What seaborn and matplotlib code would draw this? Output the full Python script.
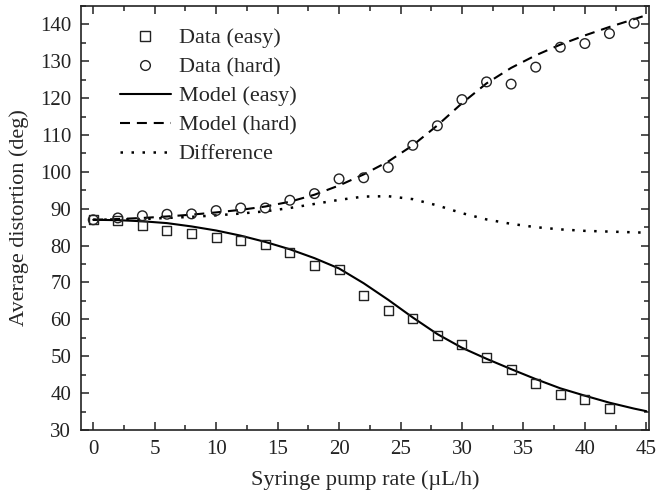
import matplotlib
matplotlib.use("Agg")
import matplotlib.pyplot as plt
from matplotlib.ticker import MultipleLocator
from matplotlib.lines import Line2D
import seaborn as sns
import pandas as pd

# ---- data ----
x_data = [0, 2, 4, 6, 8, 10, 12, 14, 16, 18, 20, 22, 24, 26, 28, 30, 32, 34, 36, 38, 40, 42, 44]
easy_data = [87.0, 86.7, 85.5, 84.0, 83.4, 82.2, 81.3, 80.2, 78.2, 74.7, 73.5, 66.4, 62.5,
             60.1, 55.5, 53.2, 49.7, 46.3, 42.6, 39.7, 38.2, 35.9]
hard_data = [87.0, 87.5, 88.1, 88.5, 88.6, 89.5, 90.2, 90.2, 92.3, 94.1, 98.1, 98.4, 101.2,
             107.2, 112.5, 119.6, 124.4, 123.8, 128.4, 133.8, 134.8, 137.5, 140.3]
x_easy = x_data[:len(easy_data)]

x_model = [0, 2, 4, 6, 8, 10, 12, 14, 16, 18, 20, 22, 24, 26, 28, 30, 32, 34, 36, 38, 40, 42, 44, 45]
model_easy = [87.0, 86.9, 86.6, 86.1, 85.2, 84.1, 82.7, 81.0, 79.0, 76.6, 73.8, 69.8, 65.3,
              60.5, 56.0, 52.3, 49.3, 46.5, 43.8, 41.3, 39.3, 37.4, 35.8, 35.1]
model_hard = [87.0, 87.2, 87.5, 87.9, 88.4, 89.0, 89.7, 90.6, 91.9, 93.8, 96.3, 99.3, 102.8,
              107.2, 112.6, 118.6, 124.0, 128.2, 131.6, 134.5, 137.0, 139.3, 141.4, 142.5]
difference = [87.0, 87.1, 87.2, 87.5, 87.8, 88.2, 88.7, 89.3, 90.2, 91.3, 92.4, 93.3, 93.4,
              92.6, 90.9, 88.8, 87.1, 85.9, 85.0, 84.4, 84.0, 83.8, 83.6, 83.5]

labels = ["Data (easy)", "Data (hard)", "Model (easy)", "Model (hard)", "Difference"]
x_label = "Syringe pump rate (\u00b5L/h)"
y_label = "Average distortion (deg)"

sns.set_theme(style="ticks")
plt.rcParams["font.family"] = ["Liberation Serif", "DejaVu Serif"]
plt.rcParams["mathtext.fontset"] = "stix"

fig = plt.figure(figsize=(6.58, 4.94), dpi=100)
ax = fig.add_axes([0.123, 0.1296, 0.863, 0.8584])

df_easy = pd.DataFrame({"x": x_easy, "y": easy_data})
df_hard = pd.DataFrame({"x": x_data, "y": hard_data})
df_model = pd.DataFrame({"x": x_model, "easy": model_easy, "hard": model_hard, "diff": difference})

lw = 1.5
dash_hard = (4.8, 3.3)
dot_lw = 1.8
dash_diff = (1.0, 3.4)
sns.lineplot(data=df_model, x="x", y="easy", ax=ax, color="black", linewidth=lw, legend=False)
sns.lineplot(data=df_model, x="x", y="hard", ax=ax, color="black", linewidth=lw, legend=False)
ax.lines[-1].set_dashes(dash_hard)
sns.lineplot(data=df_model, x="x", y="diff", ax=ax, color="black", linewidth=dot_lw, legend=False)
ax.lines[-1].set_dashes(dash_diff)

sns.scatterplot(data=df_easy, x="x", y="y", ax=ax, marker="s", s=42,
                facecolor="none", edgecolor="#222222", linewidth=1.0, legend=False, zorder=3)
sns.scatterplot(data=df_hard, x="x", y="y", ax=ax, marker="o", s=48,
                facecolor="none", edgecolor="#222222", linewidth=1.0, legend=False, zorder=3)

ax.set_xlim(-1, 45.2)
ax.set_ylim(30, 145)
ax.xaxis.set_major_locator(MultipleLocator(5))
ax.xaxis.set_minor_locator(MultipleLocator(2.5))
ax.yaxis.set_major_locator(MultipleLocator(10))
ax.yaxis.set_minor_locator(MultipleLocator(5))
ax.tick_params(which="both", direction="in", top=True, right=True, colors="#222222",
               labelsize=15, width=1.1)
ax.tick_params(which="major", length=6, pad=7)
ax.tick_params(which="minor", length=3.5)
for sp in ax.spines.values():
    sp.set_linewidth(1.2)
    sp.set_color("#222222")

ax.set_xlabel(x_label, fontsize=16, labelpad=8)
ax.set_ylabel(y_label, fontsize=16, labelpad=8)

handles = [
    Line2D([], [], linestyle="none", marker="s", markersize=6.5, markerfacecolor="none",
           markeredgecolor="#222222", markeredgewidth=1.0),
    Line2D([], [], linestyle="none", marker="o", markersize=7, markerfacecolor="none",
           markeredgecolor="#222222", markeredgewidth=1.0),
    Line2D([], [], color="black", linewidth=lw),
    Line2D([], [], color="black", linewidth=lw, dashes=dash_hard),
    Line2D([], [], color="black", linewidth=dot_lw, dashes=dash_diff),
]
ax.legend(handles, labels, loc="upper left", frameon=False, fontsize=16,
          handlelength=2.3, handletextpad=0.35, labelspacing=0.38,
          bbox_to_anchor=(0.045, 0.98), borderaxespad=0.2, numpoints=1)

fig.savefig("out.png", dpi=100)
